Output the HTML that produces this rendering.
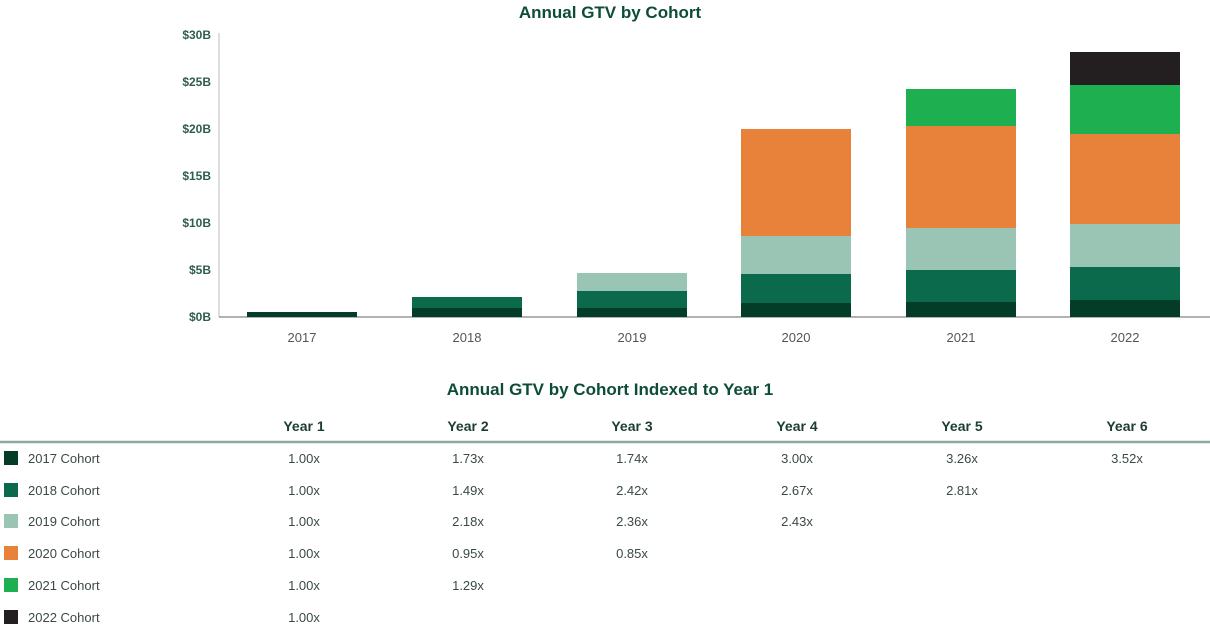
<!DOCTYPE html>
<html><head><style>
body{margin:0;background:#fff;width:1210px;height:626px;overflow:hidden;font-family:"Liberation Sans",sans-serif;}
</style></head><body>
<svg width="1210" height="626" xmlns="http://www.w3.org/2000/svg" font-family="Liberation Sans, sans-serif">
<text x="610" y="18" text-anchor="middle" font-size="17" font-weight="bold" fill="#0d4d36">Annual GTV by Cohort</text>
<g font-size="12" fill="#2f5e4b" text-anchor="end" font-weight="bold">
<text x="211" y="39">$30B</text><text x="211" y="86">$25B</text><text x="211" y="133">$20B</text>
<text x="211" y="180">$15B</text><text x="211" y="227">$10B</text><text x="211" y="274">$5B</text><text x="211" y="321">$0B</text>
</g>
<line x1="219" y1="33" x2="219" y2="317" stroke="#bbb" stroke-width="1"/>
<line x1="219" y1="317" x2="1210" y2="317" stroke="#999" stroke-width="1.5"/>
<!-- 2017 -->
<rect x="247" y="312" width="110" height="5" fill="#033d27"/>
<!-- 2018 -->
<rect x="412" y="308" width="110" height="9" fill="#033d27"/>
<rect x="412" y="297" width="110" height="11" fill="#0c6a4c"/>
<!-- 2019 -->
<rect x="577" y="308" width="110" height="9" fill="#033d27"/>
<rect x="577" y="291" width="110" height="17" fill="#0c6a4c"/>
<rect x="577" y="273" width="110" height="18" fill="#9ac5b4"/>
<!-- 2020 -->
<rect x="741" y="303" width="110" height="14" fill="#033d27"/>
<rect x="741" y="274" width="110" height="29" fill="#0c6a4c"/>
<rect x="741" y="236" width="110" height="38" fill="#9ac5b4"/>
<rect x="741" y="129" width="110" height="107" fill="#e8823a"/>
<!-- 2021 -->
<rect x="906" y="302" width="110" height="15" fill="#033d27"/>
<rect x="906" y="270" width="110" height="32" fill="#0c6a4c"/>
<rect x="906" y="228" width="110" height="42" fill="#9ac5b4"/>
<rect x="906" y="126" width="110" height="102" fill="#e8823a"/>
<rect x="906" y="89" width="110" height="37" fill="#1eb050"/>
<!-- 2022 -->
<rect x="1070" y="300" width="110" height="17" fill="#033d27"/>
<rect x="1070" y="267" width="110" height="33" fill="#0c6a4c"/>
<rect x="1070" y="224" width="110" height="43" fill="#9ac5b4"/>
<rect x="1070" y="134" width="110" height="90" fill="#e8823a"/>
<rect x="1070" y="85" width="110" height="49" fill="#1eb050"/>
<rect x="1070" y="52" width="110" height="33" fill="#231f20"/>
<g font-size="13" fill="#555" text-anchor="middle">
<text x="302" y="342">2017</text><text x="467" y="342">2018</text><text x="632" y="342">2019</text>
<text x="796" y="342">2020</text><text x="961" y="342">2021</text><text x="1125" y="342">2022</text>
</g>
<text x="610" y="395" text-anchor="middle" font-size="17" font-weight="bold" fill="#0d4d36">Annual GTV by Cohort Indexed to Year 1</text>
<g font-size="14" font-weight="bold" fill="#1d3d30" text-anchor="middle">
<text x="304" y="431">Year 1</text><text x="468" y="431">Year 2</text><text x="632" y="431">Year 3</text>
<text x="797" y="431">Year 4</text><text x="962" y="431">Year 5</text><text x="1127" y="431">Year 6</text>
</g>
<line x1="0" y1="442" x2="1210" y2="442" stroke="#8aab9c" stroke-width="2.5"/>
<g font-size="13" fill="#3a4a44">
<rect x="4" y="451" width="14" height="14" fill="#033d27"/><text x="28" y="463">2017 Cohort</text>
<rect x="4" y="483" width="14" height="14" fill="#0c6a4c"/><text x="28" y="495">2018 Cohort</text>
<rect x="4" y="514" width="14" height="14" fill="#9ac5b4"/><text x="28" y="526">2019 Cohort</text>
<rect x="4" y="546" width="14" height="14" fill="#e8823a"/><text x="28" y="558">2020 Cohort</text>
<rect x="4" y="578" width="14" height="14" fill="#1eb050"/><text x="28" y="590">2021 Cohort</text>
<rect x="4" y="610" width="14" height="14" fill="#231f20"/><text x="28" y="622">2022 Cohort</text>
</g>
<g font-size="13" fill="#3a4a44" text-anchor="middle">
<text x="304" y="463">1.00x</text><text x="468" y="463">1.73x</text><text x="632" y="463">1.74x</text><text x="797" y="463">3.00x</text><text x="962" y="463">3.26x</text><text x="1127" y="463">3.52x</text>
<text x="304" y="495">1.00x</text><text x="468" y="495">1.49x</text><text x="632" y="495">2.42x</text><text x="797" y="495">2.67x</text><text x="962" y="495">2.81x</text>
<text x="304" y="526">1.00x</text><text x="468" y="526">2.18x</text><text x="632" y="526">2.36x</text><text x="797" y="526">2.43x</text>
<text x="304" y="558">1.00x</text><text x="468" y="558">0.95x</text><text x="632" y="558">0.85x</text>
<text x="304" y="590">1.00x</text><text x="468" y="590">1.29x</text>
<text x="304" y="622">1.00x</text>
</g>
</svg>
</body></html>
